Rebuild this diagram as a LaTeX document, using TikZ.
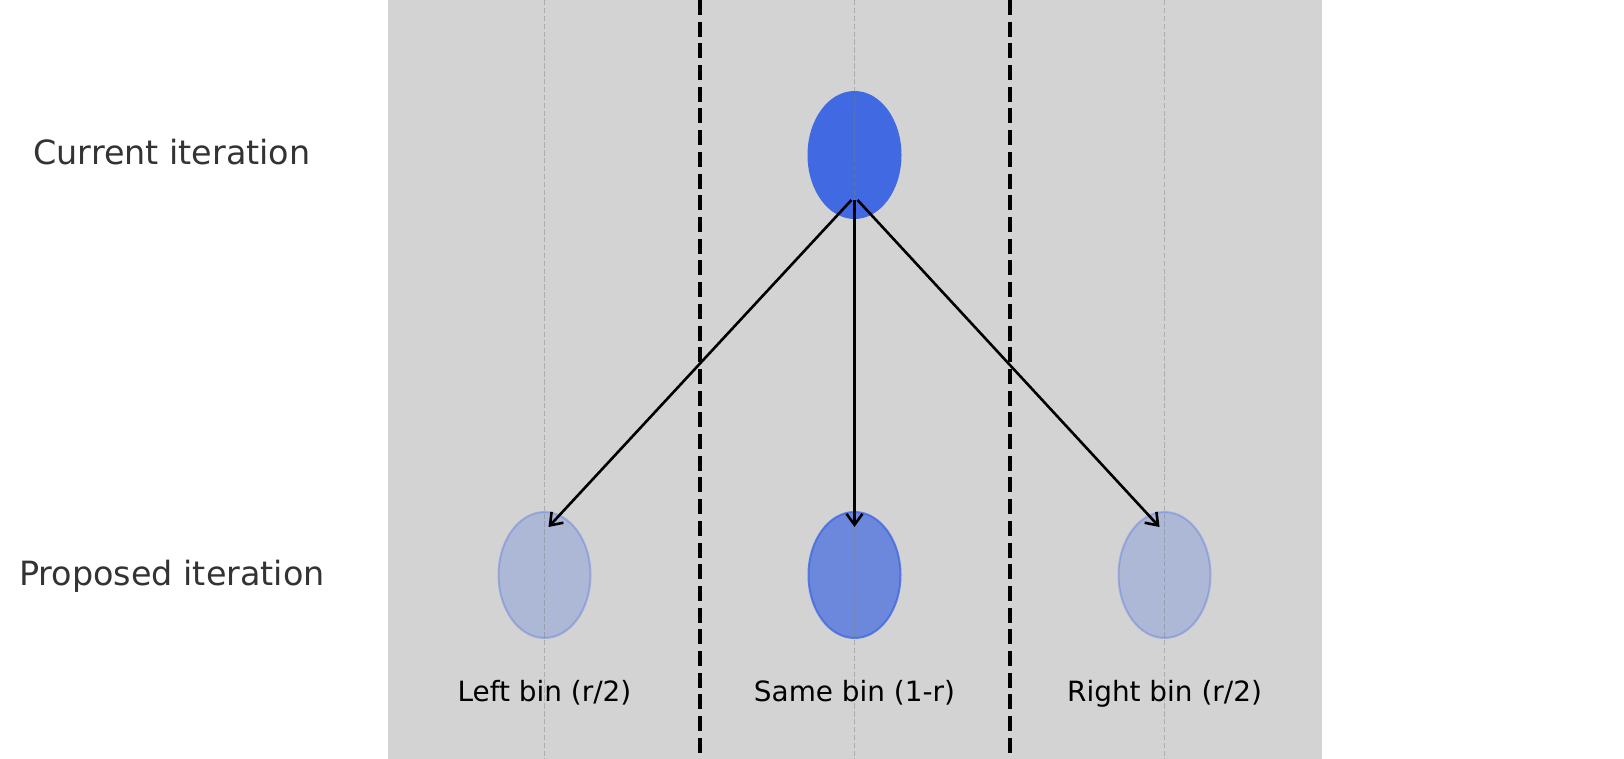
\documentclass[tikz,border=0pt]{standalone}
\usepackage{fontspec}
\setmainfont{DejaVu Sans}
\usetikzlibrary{shapes.geometric,arrows.meta,calc}
\definecolor{bggray}{HTML}{D3D3D3}
\definecolor{royal}{HTML}{4169E1}
\definecolor{labelgray}{HTML}{333333}
\begin{document}
\begin{tikzpicture}[x=1pt,y=-1pt,
  sidelabel/.style={font=\fontsize{33.4}{38}\selectfont, text=labelgray, anchor=base, inner sep=0},
  binlabel/.style={font=\fontsize{27.9}{32}\selectfont, text=black, anchor=base, inner sep=0},
  blob/.style={ellipse, minimum width=92pt, minimum height=126pt, inner sep=0, line width=2pt},
  binline/.style={line width=4pt, black, dash pattern=on 15pt off 6.7pt},
  centerline/.style={line width=1.5pt, gray, opacity=0.45, dash pattern=on 5.5pt off 2.4pt},
  arrowline/.style={line width=2.6pt, black, -{Straight Barb[length=11pt,width=16pt,line width=2.6pt]}}
]
\useasboundingbox (0,0) rectangle (1624,759);
\fill[white] (0,0) rectangle (1624,759);
\fill[bggray] (388,0) rectangle (1322,759);
% bin separators
\coordinate (s1t) at (699.5,0); \coordinate (s1b) at (699.5,759);
\coordinate (s2t) at (1010,0); \coordinate (s2b) at (1010,759);
\draw[binline] (s1t) -- (s1b);
\draw[binline] (s2t) -- (s2b);
% nodes
\node[blob, fill=royal, draw=royal] (cur) at (854.5,155) {};
\node[blob, fill=royal, fill opacity=0.26, draw=royal, draw opacity=0.33] (left) at (544.5,575) {};
\node[blob, fill=royal, fill opacity=0.7, draw=royal, draw opacity=0.8] (same) at (854.5,575) {};
\node[blob, fill=royal, fill opacity=0.26, draw=royal, draw opacity=0.33] (right) at (1164.5,575) {};
% center guide lines
\foreach \xx/\nm in {544.5/a,854.5/b,1164.5/c}{
  \coordinate (g\nm t) at (\xx,0); \coordinate (g\nm b) at (\xx,759);
  \draw[centerline] (g\nm t) -- (g\nm b);
}
% arrows
\coordinate (stL) at ($(cur.center)+(-3,45)$);
\coordinate (stM) at ($(cur.center)+(0,45)$);
\coordinate (stR) at ($(cur.center)+(3,45)$);
\coordinate (enL) at ($(left.center)+(4,-48)$);
\coordinate (enM) at ($(same.center)+(0,-48)$);
\coordinate (enR) at ($(right.center)+(-5,-48)$);
\draw[arrowline] (stL) -- (enL);
\draw[arrowline] (stM) -- (enM);
\draw[arrowline] (stR) -- (enR);
% labels
\node[sidelabel] (lcur) at (172,165) {Current iteration};
\node[sidelabel] (lprop) at (172,585.5) {Proposed iteration};
\node[binlabel] (bl) at (544.5,701.7) {Left bin (r/2)};
\node[binlabel] (bm) at (854.5,701.7) {Same bin (1-r)};
\node[binlabel] (br) at (1164.5,701.7) {Right bin (r/2)};
\end{tikzpicture}
\end{document}
